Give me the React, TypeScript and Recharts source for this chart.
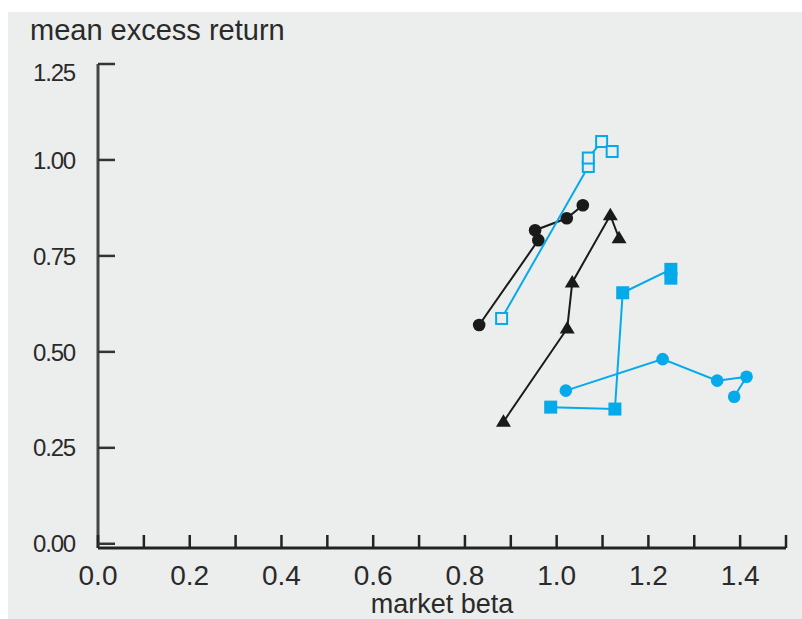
import { Scatter, ScatterChart, XAxis, YAxis } from 'recharts';

// market beta (x) and mean excess return (y)
const BLACK_CIRCLE_BETA = [0.831, 0.96, 0.953, 1.022, 1.057];
const BLACK_CIRCLE_RET = [0.57, 0.791, 0.817, 0.848, 0.882];

const BLACK_TRIANGLE_BETA = [0.884, 1.023, 1.034, 1.117, 1.136];
const BLACK_TRIANGLE_RET = [0.318, 0.561, 0.681, 0.856, 0.796];

const BLUE_OPEN_BETA = [0.88, 1.069, 1.069, 1.098, 1.121];
const BLUE_OPEN_RET = [0.587, 0.983, 1.005, 1.048, 1.022];

const BLUE_SQUARE_BETA = [0.987, 1.127, 1.144, 1.249, 1.249];
const BLUE_SQUARE_RET = [0.356, 0.351, 0.654, 0.715, 0.692];

const BLUE_CIRCLE_BETA = [1.02, 1.231, 1.35, 1.414, 1.387];
const BLUE_CIRCLE_RET = [0.399, 0.481, 0.425, 0.435, 0.383];

const X_TICKS = [0, 0.1, 0.2, 0.3, 0.4, 0.5, 0.6, 0.7, 0.8, 0.9, 1.0, 1.1, 1.2, 1.3, 1.4, 1.5];
const X_LABELS = [0, 0.2, 0.4, 0.6, 0.8, 1.0, 1.2, 1.4];
const Y_TICKS = [0, 0.25, 0.5, 0.75, 1.0, 1.25];

const BLUE = '#05aaea';
const BLACK = '#1a1a1a';
const BG = '#eceeed';
const FONT = '"Liberation Sans", Arial, sans-serif';

const toPoints = (beta: number[], ret: number[]) => beta.map((b, i) => ({ beta: b, ret: ret[i] }));

const blackCircles = toPoints(BLACK_CIRCLE_BETA, BLACK_CIRCLE_RET);
const blackTriangles = toPoints(BLACK_TRIANGLE_BETA, BLACK_TRIANGLE_RET);
const blueOpen = toPoints(BLUE_OPEN_BETA, BLUE_OPEN_RET);
const blueSquares = toPoints(BLUE_SQUARE_BETA, BLUE_SQUARE_RET);
const blueCircles = toPoints(BLUE_CIRCLE_BETA, BLUE_CIRCLE_RET);

const dot = (fill: string) => (p: any) => <circle cx={p.cx} cy={p.cy} r={6.3} fill={fill} />;

const triangle = (p: any) => (
  <path d={`M${p.cx},${p.cy - 7.5} L${p.cx + 7.5},${p.cy + 5} L${p.cx - 7.5},${p.cy + 5} Z`} fill={BLACK} />
);

const square = (p: any) => <rect x={p.cx - 6.5} y={p.cy - 6.5} width={13} height={13} fill={BLUE} />;

const openSquare = (p: any) => (
  <rect x={p.cx - 5.5} y={p.cy - 5.5} width={11} height={11} fill={BG} stroke={BLUE} strokeWidth={2} />
);

function XTick(props: any) {
  const { x, y, payload } = props;
  const v = payload.value as number;
  return (
    <g>
      <line x1={x} x2={x} y1={y - 13} y2={y} stroke="#222" strokeWidth={2.5} />
      {X_LABELS.includes(v) && (
        <text x={x} y={y + 37} textAnchor="middle" fontSize={28} fontFamily={FONT} fill="#2a2a2a">
          {v.toFixed(1)}
        </text>
      )}
    </g>
  );
}

function YTick(props: any) {
  const { x, y, payload } = props;
  const v = payload.value as number;
  // the top label sits a little below its tick in the original
  const shift = v === 1.25 ? 8.5 : 0;
  return (
    <g>
      <line x1={x + 23} x2={x + 40} y1={y} y2={y} stroke="#333" strokeWidth={2.5} />
      <text
        x={x}
        y={y + shift}
        dy="0.36em"
        textAnchor="end"
        fontSize={24}
        letterSpacing={-1.2}
        fontFamily={FONT}
        fill="#2a2a2a"
      >
        {v.toFixed(2)}
      </text>
    </g>
  );
}

export default function App() {
  return (
    <div
      style={{
        position: 'absolute',
        left: 8,
        top: 12,
        width: 794,
        height: 607,
        background: BG,
        overflow: 'hidden',
        fontFamily: FONT,
      }}
    >
      <div
        style={{
          position: 'absolute',
          left: 22,
          top: 3.5,
          fontSize: 29,
          lineHeight: '29px',
          color: '#2a2a2a',
          whiteSpace: 'nowrap',
        }}
      >
        mean excess return
      </div>
      <ScatterChart width={794} height={607} margin={{ top: 52, right: 16, bottom: 0, left: 0 }}>
        <XAxis
          type="number"
          dataKey="beta"
          domain={[0, 1.5]}
          ticks={X_TICKS}
          interval={0}
          tick={XTick}
          tickLine={false}
          tickSize={0}
          tickMargin={0}
          height={71}
          axisLine={{ stroke: '#222', strokeWidth: 3 }}
        />
        <YAxis
          type="number"
          dataKey="ret"
          domain={[-0.011, 1.25]}
          ticks={Y_TICKS}
          interval={0}
          tick={YTick}
          tickLine={false}
          tickSize={0}
          tickMargin={23}
          width={90}
          axisLine={{ stroke: '#444', strokeWidth: 3 }}
        />
        <Scatter data={blackCircles} line={{ stroke: BLACK, strokeWidth: 2 }} shape={dot(BLACK)} isAnimationActive={false} />
        <Scatter data={blackTriangles} line={{ stroke: BLACK, strokeWidth: 2 }} shape={triangle} isAnimationActive={false} />
        <Scatter data={blueOpen} line={{ stroke: BLUE, strokeWidth: 2 }} shape={openSquare} isAnimationActive={false} />
        <Scatter data={blueSquares} line={{ stroke: BLUE, strokeWidth: 2 }} shape={square} isAnimationActive={false} />
        <Scatter data={blueCircles} line={{ stroke: BLUE, strokeWidth: 2 }} shape={dot(BLUE)} isAnimationActive={false} />
      </ScatterChart>
      <div
        style={{
          position: 'absolute',
          left: 90,
          width: 688,
          top: 577,
          textAlign: 'center',
          fontSize: 27,
          lineHeight: '30px',
          color: '#2a2a2a',
        }}
      >
        market beta
      </div>
    </div>
  );
}
